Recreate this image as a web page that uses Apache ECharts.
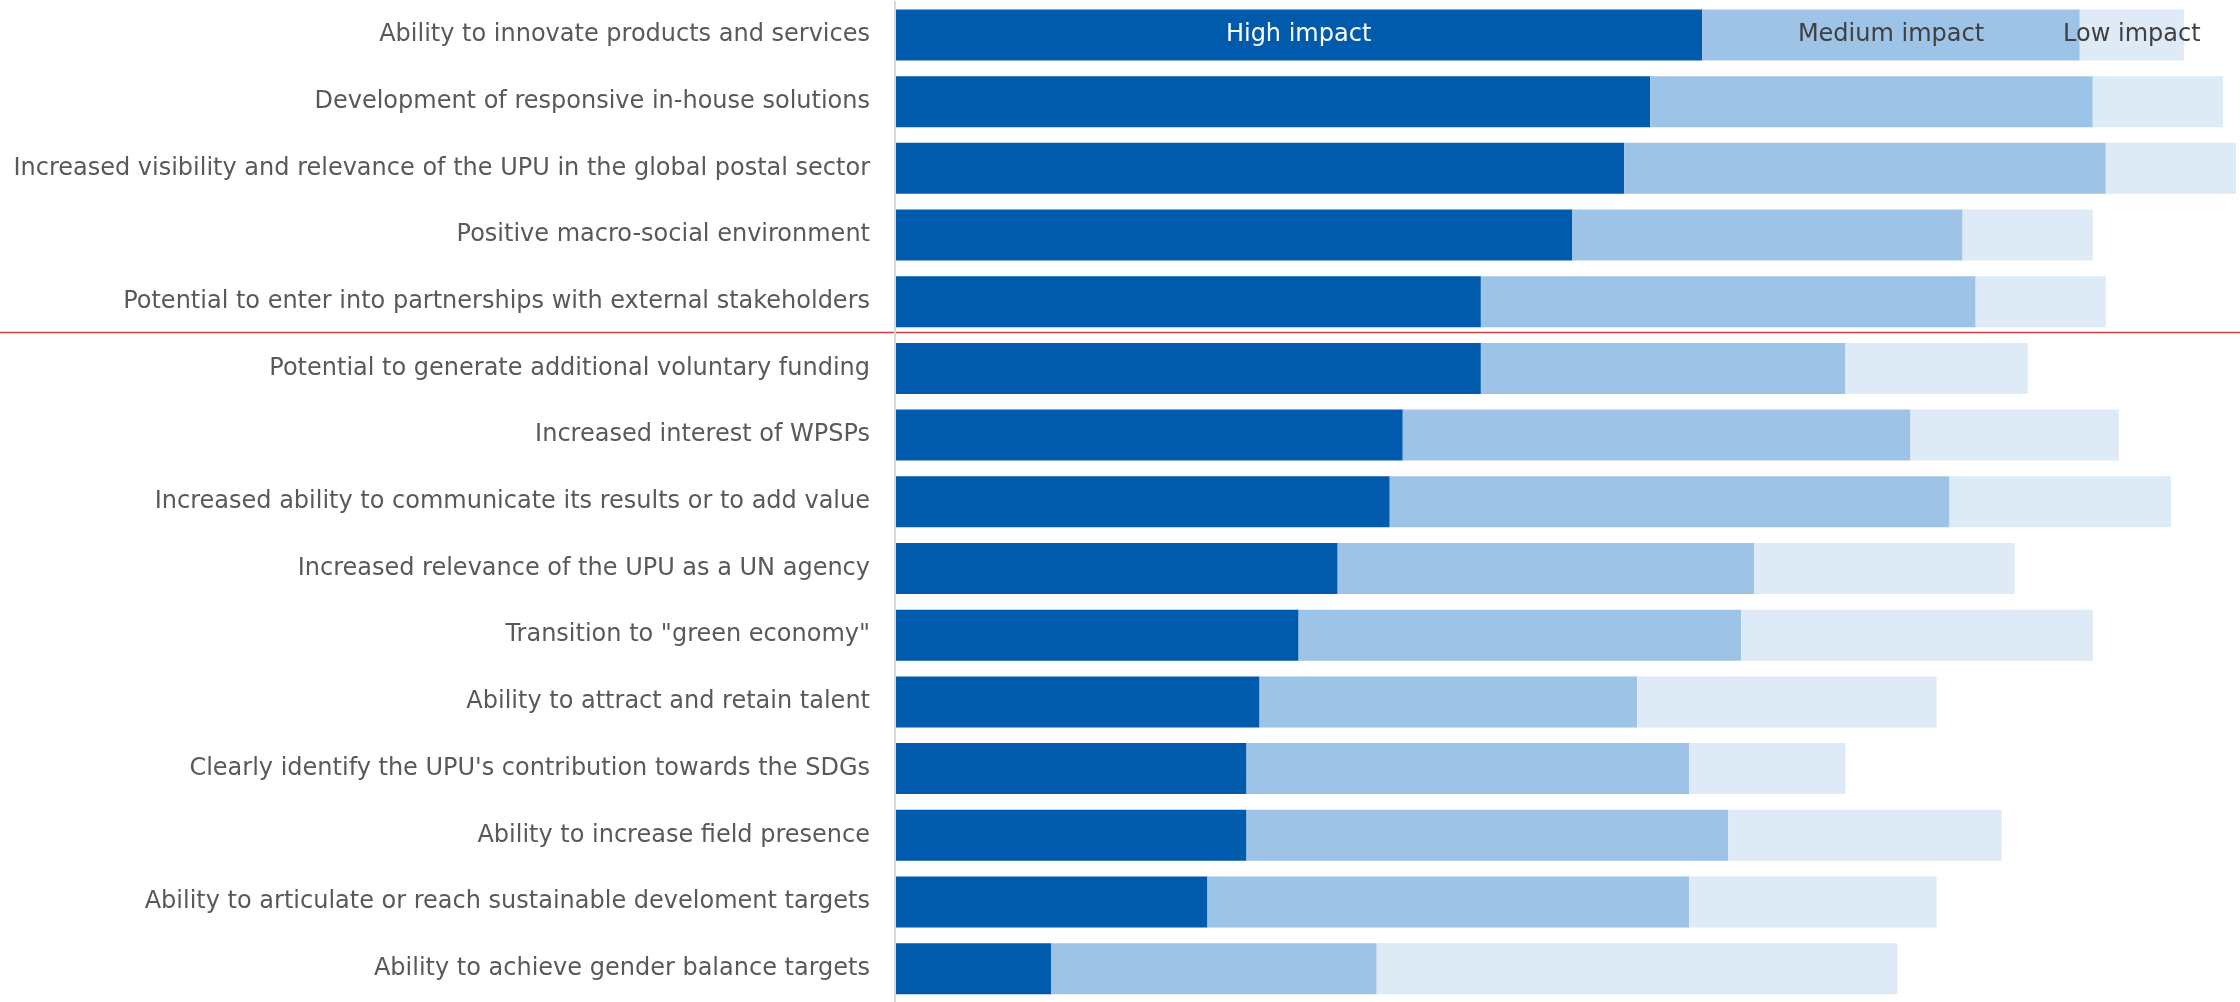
<!DOCTYPE html>
<html>
<head>
<meta charset="utf-8">
<script src="https://cdn.jsdelivr.net/npm/echarts@6/dist/echarts.min.js"></script>
<style>
html,body{margin:0;padding:0;background:#fff;}
#chart{width:2240px;height:1002px;}
</style>
</head>
<body>
<div id="chart"></div>
<script>
const categories = [
  "Ability to innovate products and services",
  "Development of responsive in-house solutions",
  "Increased visibility and relevance of the UPU in the global postal sector",
  "Positive macro-social environment",
  "Potential to enter into partnerships with external stakeholders",
  "Potential to generate additional voluntary funding",
  "Increased interest of WPSPs",
  "Increased ability to communicate its results or to add value",
  "Increased relevance of the UPU as a UN agency",
  "Transition to \"green economy\"",
  "Ability to attract and retain talent",
  "Clearly identify the UPU's contribution towards the SDGs",
  "Ability to increase field presence",
  "Ability to articulate or reach sustainable develoment targets",
  "Ability to achieve gender balance targets"
];
const seriesNames = ["High impact", "Medium impact", "Low impact"];
const highImpact   = [62, 58, 56, 52, 45, 45, 39, 38, 34, 31, 28, 27, 27, 24, 12];
const mediumImpact = [29, 34, 37, 30, 38, 28, 39, 43, 32, 34, 29, 34, 37, 37, 25];
const lowImpact    = [8, 10, 10, 10, 10, 14, 16, 17, 20, 27, 23, 12, 21, 19, 40];

const colors = ["#005BAC", "#9DC3E6", "#DEEAF6"];
const labelColors = ["#ffffff", "#404040", "#404040"];
const FONT = "'DejaVu Sans', Verdana, sans-serif";

const chart = echarts.init(document.getElementById('chart'), null, {renderer: 'canvas'});

function buildData(values, idx) {
  return values.map((v, i) => i === 0 ? {
    value: v,
    label: {
      show: true,
      position: 'inside',
      formatter: seriesNames[idx],
      color: labelColors[idx],
      fontSize: 24,
      fontFamily: FONT,
      padding: [3, 0, 0, 0]
    }
  } : v);
}

const allValues = [highImpact, mediumImpact, lowImpact];

chart.setOption({
  animation: false,
  backgroundColor: '#ffffff',
  grid: {left: 895, right: 4, top: 1.6, height: 1006.3, containLabel: false},
  xAxis: {
    type: 'value', min: 0, max: 103, show: false,
    splitLine: {show: false}
  },
  yAxis: {
    type: 'category',
    inverse: true,
    data: categories,
    z: 10,
    axisLine: {show: true, lineStyle: {color: '#d9d9d9', width: 2}},
    axisTick: {show: false},
    axisLabel: {
      margin: 25, fontSize: 24, color: '#595959', fontFamily: FONT,
      padding: [3, 0, 0, 0]
    }
  },
  series: seriesNames.map((name, idx) => ({
    name: name,
    type: 'bar',
    stack: 'total',
    barWidth: 51,
    itemStyle: {color: colors[idx]},
    label: {show: false},
    data: buildData(allValues[idx], idx)
  }))
});

// red separator between the 5th and 6th rows
const y4 = chart.convertToPixel({yAxisIndex: 0}, 4);
const y5 = chart.convertToPixel({yAxisIndex: 0}, 5);
const ySep = Math.round(y4 + (y5 - y4) * 0.455) + 0.5;
chart.setOption({
  graphic: [{
    type: 'line',
    z: 1,
    shape: {x1: 0, y1: ySep, x2: 2240, y2: ySep},
    style: {stroke: '#CC4040', lineWidth: 1.5}
  }]
});
</script>
</body>
</html>
